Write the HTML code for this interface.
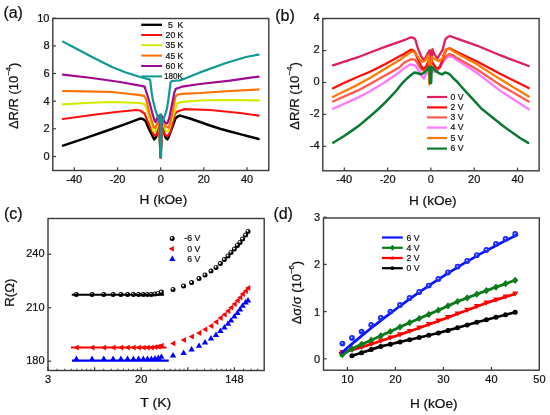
<!DOCTYPE html>
<html><head><meta charset="utf-8"><style>
html,body{margin:0;padding:0;background:#fff;}
svg{display:block;will-change:transform;filter:blur(0.3px);}
text{font-family:"Liberation Sans", sans-serif;fill:#111;stroke:#111;stroke-width:0.22px;}
</style></head><body>
<svg width="550" height="415" viewBox="0 0 550 415">
<rect width="550" height="415" fill="#fff"/>
<text x="3.4" y="17.6" font-size="16" text-anchor="start" >(a)</text>
<polyline points="63.0,145.6 84.0,138.6 106.0,131.0 124.0,124.6 140.0,118.6 143.0,119.0 145.6,121.0 148.6,128.2 154.2,139.4 156.0,137.5 159.3,126.0 160.6,157.5 162.0,126.0 165.5,137.5 167.3,139.4 168.3,137.8 173.4,124.2 175.4,118.6 177.4,116.6 180.0,115.6 190.0,118.5 200.0,122.0 210.0,125.5 220.0,128.7 230.0,131.5 240.0,134.1 250.0,136.7 258.6,139.0" fill="none" stroke="#000000" stroke-width="2.5" stroke-linejoin="round" stroke-linecap="round" />
<polyline points="63.0,119.0 92.0,115.0 116.0,112.0 136.0,110.0 140.0,110.5 144.6,113.5 147.1,120.1 154.2,135.6 156.7,135.0 159.3,122.0 160.6,157.5 162.0,122.0 164.0,134.0 167.3,136.3 170.4,131.8 174.9,114.0 177.4,111.5 182.0,110.0 184.0,109.2 210.0,110.0 240.0,113.0 258.6,115.6" fill="none" stroke="#ff1010" stroke-width="2.2" stroke-linejoin="round" stroke-linecap="round" />
<polyline points="63.0,104.4 85.0,103.0 112.0,102.0 140.0,103.0 144.0,104.0 146.0,106.9 147.6,112.0 153.2,131.0 155.2,132.0 159.3,120.0 160.6,157.5 162.0,120.0 166.0,131.5 168.3,131.5 174.5,112.0 177.0,103.4 182.0,101.9 200.0,100.5 220.0,100.0 258.6,100.4" fill="none" stroke="#d2ec00" stroke-width="2.2" stroke-linejoin="round" stroke-linecap="round" />
<polyline points="63.0,91.0 85.0,91.3 112.0,92.0 130.0,94.0 140.0,95.2 144.0,95.8 146.1,99.3 149.6,114.0 153.7,127.2 155.2,128.2 159.3,118.0 160.6,157.5 162.0,118.0 165.5,126.5 168.8,127.7 172.6,112.0 175.4,96.3 177.4,94.8 182.0,93.8 200.0,93.0 230.0,91.0 258.6,89.5" fill="none" stroke="#ff7000" stroke-width="2.2" stroke-linejoin="round" stroke-linecap="round" />
<polyline points="63.0,74.6 92.0,78.0 120.0,82.0 140.0,85.6 144.6,86.6 147.8,96.5 150.0,104.3 152.9,115.2 154.7,121.0 155.6,121.9 158.0,116.5 159.5,115.5 160.6,157.5 162.0,116.0 163.0,118.8 164.5,121.7 166.5,123.5 167.4,123.1 169.2,118.1 171.0,109.4 174.4,92.2 175.9,88.7 182.0,86.7 200.0,84.0 230.0,80.6 258.6,76.6" fill="none" stroke="#a00a8e" stroke-width="2.2" stroke-linejoin="round" stroke-linecap="round" />
<polyline points="63.0,41.6 77.0,49.0 92.0,57.0 112.0,67.0 126.0,72.5 140.0,77.0 147.6,79.0 150.1,79.6 151.6,92.2 152.9,100.0 155.4,110.1 158.0,117.4 160.1,123.1 160.8,124.0 162.3,121.7 164.5,116.6 167.0,108.7 168.3,100.0 169.5,91.0 170.6,82.2 171.8,81.0 180.0,80.4 185.0,78.5 200.0,72.4 226.0,63.0 246.0,57.0 258.6,54.6" fill="none" stroke="#0e9a92" stroke-width="2.2" stroke-linejoin="round" stroke-linecap="round" />
<rect x="159.3" y="113.3" width="2.9" height="44.7" rx="1.2" fill="#0e9a92"/>
<line x1="141.2" y1="24.8" x2="162" y2="24.8" stroke="#000000" stroke-width="2.3"/>
<text x="168.0" y="27.7" font-size="8.7" text-anchor="start" >5</text>
<text x="177.6" y="27.7" font-size="8.7" text-anchor="start" >K</text>
<line x1="141.2" y1="35" x2="162" y2="35" stroke="#ff1010" stroke-width="2.0"/>
<text x="165.6" y="37.9" font-size="8.7" textLength="17.8" lengthAdjust="spacingAndGlyphs" >20 K</text>
<line x1="141.2" y1="45.2" x2="162" y2="45.2" stroke="#d2ec00" stroke-width="2.0"/>
<text x="165.6" y="48.1" font-size="8.7" textLength="17.8" lengthAdjust="spacingAndGlyphs" >35 K</text>
<line x1="141.2" y1="55.6" x2="162" y2="55.6" stroke="#ff7000" stroke-width="2.0"/>
<text x="165.6" y="58.5" font-size="8.7" textLength="17.8" lengthAdjust="spacingAndGlyphs" >45 K</text>
<line x1="141.2" y1="66" x2="162" y2="66" stroke="#a00a8e" stroke-width="2.0"/>
<text x="165.6" y="68.9" font-size="8.7" textLength="17.8" lengthAdjust="spacingAndGlyphs" >60 K</text>
<line x1="141.2" y1="76.4" x2="162" y2="76.4" stroke="#0e9a92" stroke-width="2.0"/>
<text x="164.0" y="79.3" font-size="8.7" textLength="19.0" lengthAdjust="spacingAndGlyphs" >180K</text>
<rect x="52.8" y="18.5" width="216.0" height="152.0" fill="none" stroke="#3a3a3a" stroke-width="1.4"/>
<line x1="74.3" y1="170.5" x2="74.3" y2="167.3" stroke="#3a3a3a" stroke-width="1.2"/>
<line x1="117.5" y1="170.5" x2="117.5" y2="167.3" stroke="#3a3a3a" stroke-width="1.2"/>
<line x1="160.7" y1="170.5" x2="160.7" y2="167.3" stroke="#3a3a3a" stroke-width="1.2"/>
<line x1="203.8" y1="170.5" x2="203.8" y2="167.3" stroke="#3a3a3a" stroke-width="1.2"/>
<line x1="247.0" y1="170.5" x2="247.0" y2="167.3" stroke="#3a3a3a" stroke-width="1.2"/>
<line x1="52.8" y1="156.5" x2="56.0" y2="156.5" stroke="#3a3a3a" stroke-width="1.2"/>
<line x1="52.8" y1="128.8" x2="56.0" y2="128.8" stroke="#3a3a3a" stroke-width="1.2"/>
<line x1="52.8" y1="101.2" x2="56.0" y2="101.2" stroke="#3a3a3a" stroke-width="1.2"/>
<line x1="52.8" y1="73.5" x2="56.0" y2="73.5" stroke="#3a3a3a" stroke-width="1.2"/>
<line x1="52.8" y1="45.9" x2="56.0" y2="45.9" stroke="#3a3a3a" stroke-width="1.2"/>
<line x1="52.8" y1="18.2" x2="56.0" y2="18.2" stroke="#3a3a3a" stroke-width="1.2"/>
<text x="74.3" y="183.0" font-size="11" text-anchor="middle" >-40</text>
<text x="117.5" y="183.0" font-size="11" text-anchor="middle" >-20</text>
<text x="160.7" y="183.0" font-size="11" text-anchor="middle" >0</text>
<text x="203.8" y="183.0" font-size="11" text-anchor="middle" >20</text>
<text x="247.0" y="183.0" font-size="11" text-anchor="middle" >40</text>
<text x="49.5" y="160.0" font-size="11" text-anchor="end" >0</text>
<text x="49.5" y="132.3" font-size="11" text-anchor="end" >2</text>
<text x="49.5" y="104.7" font-size="11" text-anchor="end" >4</text>
<text x="49.5" y="77.0" font-size="11" text-anchor="end" >6</text>
<text x="49.5" y="49.4" font-size="11" text-anchor="end" >8</text>
<text x="49.5" y="21.7" font-size="11" text-anchor="end" >10</text>
<text x="139.6" y="204.2" font-size="12.5" textLength="47.6" lengthAdjust="spacingAndGlyphs" >H (kOe)</text>
<text transform="translate(17.6,95.8) rotate(-90)" font-size="12.5" text-anchor="middle" textLength="66.5" lengthAdjust="spacingAndGlyphs">ΔR/R (10<tspan font-size="7.5" dy="-6.6">−4</tspan><tspan dy="6.6">)</tspan></text>
<text x="275.2" y="20.6" font-size="16" text-anchor="start" >(b)</text>
<polyline points="333.0,65.4 358.0,57.2 370.0,52.5 385.0,46.8 400.0,41.6 403.9,40.2 410.0,37.7 411.5,37.3 413.5,37.8 415.2,39.3 417.9,48.5 421.2,56.5 423.3,59.2 424.5,59.8 426.9,54.9 429.4,50.5 429.9,50.3 430.4,64.0 431.0,51.4 431.5,64.0 432.4,49.2 434.5,54.4 436.7,57.6 437.5,58.4 439.5,54.9 442.6,49.9 445.3,39.3 447.3,37.3 449.9,36.0 455.0,37.9 477.5,45.8 500.0,55.2 528.7,66.0" fill="none" stroke="#e0205a" stroke-width="2.3" stroke-linejoin="round" stroke-linecap="round" />
<polyline points="333.0,108.8 358.0,97.6 370.0,91.2 385.0,82.3 400.0,71.7 403.9,68.4 410.0,64.6 411.5,64.6 415.2,65.5 419.8,72.4 423.2,78.3 424.2,78.5 425.1,75.7 426.9,73.6 428.5,70.0 429.8,78.0 431.2,70.0 434.0,72.0 436.0,71.5 437.8,70.5 440.5,66.0 442.6,63.1 446.6,57.8 449.2,56.3 453.2,57.2 455.0,58.8 477.5,73.3 500.0,90.6 528.7,109.3" fill="none" stroke="#ff78ff" stroke-width="2.3" stroke-linejoin="round" stroke-linecap="round" />
<polyline points="333.0,101.5 358.0,90.4 370.0,84.0 385.0,75.4 400.0,66.9 403.9,62.8 410.0,59.7 411.5,59.1 415.2,59.8 419.8,67.1 421.5,69.5 423.6,70.9 426.5,67.0 428.5,63.0 429.8,78.0 431.2,63.0 433.5,64.0 435.5,68.5 437.5,70.5 439.5,67.1 442.2,61.6 444.0,59.1 446.6,55.8 449.2,54.2 453.2,55.2 455.0,56.7 477.5,69.7 500.0,84.9 528.7,101.5" fill="none" stroke="#ff5a50" stroke-width="2.3" stroke-linejoin="round" stroke-linecap="round" />
<polyline points="333.0,88.2 345.0,82.5 358.0,76.7 370.0,71.7 385.0,64.2 400.0,56.1 403.9,54.0 410.0,50.1 411.5,49.6 414.5,51.2 418.5,60.5 422.5,68.4 423.5,68.8 426.4,66.0 427.7,62.7 429.0,60.0 429.8,78.0 431.2,60.0 432.4,62.7 435.1,66.6 437.0,68.5 440.0,67.1 444.0,55.0 446.5,49.3 449.8,48.4 455.0,51.0 477.5,61.7 500.0,73.7 528.7,88.0" fill="none" stroke="#ff0c0c" stroke-width="2.3" stroke-linejoin="round" stroke-linecap="round" />
<polyline points="333.0,96.9 338.0,94.3 345.0,91.0 358.0,84.6 370.0,78.0 385.0,68.7 400.0,59.7 410.0,52.8 412.0,51.5 415.2,52.5 419.2,59.1 422.5,61.8 424.7,60.9 425.8,59.8 427.8,55.8 428.6,55.5 429.3,84.5 431.8,57.0 432.4,57.6 435.1,59.3 437.3,60.4 438.6,61.1 442.0,59.1 444.0,53.8 445.9,49.2 449.2,48.6 455.0,52.2 477.5,64.6 500.0,79.1 528.7,96.6" fill="none" stroke="#ff7a00" stroke-width="2.3" stroke-linejoin="round" stroke-linecap="round" />
<polyline points="333.2,142.7 344.5,135.8 352.0,130.6 359.1,125.6 366.0,119.8 373.6,113.3 379.5,108.0 385.3,102.4 391.0,96.3 396.9,90.0 401.3,84.3 404.5,80.8 407.9,77.7 410.7,75.3 414.5,72.6 417.0,73.0 419.2,73.7 420.9,74.3 424.5,72.6 426.9,69.8 428.5,67.4 429.5,66.8 430.0,83.0 431.0,83.0 431.7,66.8 432.9,67.6 435.1,70.4 438.6,73.0 442.0,74.4 445.3,72.4 448.6,73.7 450.5,75.0 453.2,78.3 457.2,81.7 459.4,84.5 465.6,91.3 473.5,99.9 481.3,108.5 489.1,114.7 496.9,121.0 504.8,127.3 512.6,132.7 520.4,138.2 528.2,142.9" fill="none" stroke="#0a7a32" stroke-width="2.5" stroke-linejoin="round" stroke-linecap="round" />
<rect x="429.0" y="66.8" width="3.2" height="16.6" fill="#0a7a32"/>
<line x1="427" y1="97" x2="447" y2="97" stroke="#e0205a" stroke-width="2.2"/>
<text x="450.6" y="99.7" font-size="8.7" text-anchor="start" >0 V</text>
<line x1="427" y1="107.4" x2="447" y2="107.4" stroke="#ff0c0c" stroke-width="2.2"/>
<text x="450.6" y="110.1" font-size="8.7" text-anchor="start" >2 V</text>
<line x1="427" y1="117.4" x2="447" y2="117.4" stroke="#ff5a50" stroke-width="2.2"/>
<text x="450.6" y="120.1" font-size="8.7" text-anchor="start" >3 V</text>
<line x1="427" y1="127.6" x2="447" y2="127.6" stroke="#ff78ff" stroke-width="2.2"/>
<text x="450.6" y="130.3" font-size="8.7" text-anchor="start" >4 V</text>
<line x1="427" y1="138" x2="447" y2="138" stroke="#ff7a00" stroke-width="2.2"/>
<text x="450.6" y="140.7" font-size="8.7" text-anchor="start" >5 V</text>
<line x1="427" y1="148.6" x2="447" y2="148.6" stroke="#0a7a32" stroke-width="2.2"/>
<text x="450.6" y="151.3" font-size="8.7" text-anchor="start" >6 V</text>
<rect x="322.8" y="18.5" width="216.3" height="152.3" fill="none" stroke="#3a3a3a" stroke-width="1.4"/>
<line x1="344.3" y1="170.8" x2="344.3" y2="167.6" stroke="#3a3a3a" stroke-width="1.2"/>
<line x1="387.6" y1="170.8" x2="387.6" y2="167.6" stroke="#3a3a3a" stroke-width="1.2"/>
<line x1="430.9" y1="170.8" x2="430.9" y2="167.6" stroke="#3a3a3a" stroke-width="1.2"/>
<line x1="474.2" y1="170.8" x2="474.2" y2="167.6" stroke="#3a3a3a" stroke-width="1.2"/>
<line x1="517.5" y1="170.8" x2="517.5" y2="167.6" stroke="#3a3a3a" stroke-width="1.2"/>
<line x1="322.8" y1="146.3" x2="326.0" y2="146.3" stroke="#3a3a3a" stroke-width="1.2"/>
<line x1="322.8" y1="114.4" x2="326.0" y2="114.4" stroke="#3a3a3a" stroke-width="1.2"/>
<line x1="322.8" y1="82.5" x2="326.0" y2="82.5" stroke="#3a3a3a" stroke-width="1.2"/>
<line x1="322.8" y1="50.6" x2="326.0" y2="50.6" stroke="#3a3a3a" stroke-width="1.2"/>
<line x1="322.8" y1="18.7" x2="326.0" y2="18.7" stroke="#3a3a3a" stroke-width="1.2"/>
<text x="344.3" y="183.3" font-size="11" text-anchor="middle" >-40</text>
<text x="387.6" y="183.3" font-size="11" text-anchor="middle" >-20</text>
<text x="430.9" y="183.3" font-size="11" text-anchor="middle" >0</text>
<text x="474.2" y="183.3" font-size="11" text-anchor="middle" >20</text>
<text x="517.5" y="183.3" font-size="11" text-anchor="middle" >40</text>
<text x="319.6" y="148.9" font-size="11" text-anchor="end" >-4</text>
<text x="319.6" y="117.0" font-size="11" text-anchor="end" >-2</text>
<text x="319.6" y="85.1" font-size="11" text-anchor="end" >0</text>
<text x="319.6" y="53.2" font-size="11" text-anchor="end" >2</text>
<text x="319.6" y="21.3" font-size="11" text-anchor="end" >4</text>
<text x="409.0" y="204.7" font-size="12.5" textLength="47.6" lengthAdjust="spacingAndGlyphs" >H (kOe)</text>
<text transform="translate(299.0,96.0) rotate(-90)" font-size="12.5" text-anchor="middle" textLength="67.8" lengthAdjust="spacingAndGlyphs">ΔR/R (10<tspan font-size="7.5" dy="-6.6">−4</tspan><tspan dy="6.6">)</tspan></text>
<text x="3.9" y="218.6" font-size="16" text-anchor="start" >(c)</text>
<circle cx="76.4" cy="294.6" r="2.5" fill="#000"/><circle cx="75.9" cy="294.0" r="1.0" fill="#fff"/>
<polygon points="73.5,347.6 78.7,344.7 78.7,350.5" fill="#f00"/>
<polygon points="76.4,355.6 79.5,361.0 73.2,361.0" fill="#00f"/>
<circle cx="92.1" cy="294.6" r="2.5" fill="#000"/><circle cx="91.6" cy="294.0" r="1.0" fill="#fff"/>
<polygon points="89.2,347.6 94.4,344.7 94.4,350.5" fill="#f00"/>
<polygon points="92.1,355.6 95.2,361.0 88.9,361.0" fill="#00f"/>
<circle cx="103.8" cy="294.6" r="2.5" fill="#000"/><circle cx="103.3" cy="294.0" r="1.0" fill="#fff"/>
<polygon points="100.9,347.6 106.1,344.7 106.1,350.5" fill="#f00"/>
<polygon points="103.8,355.6 106.9,361.0 100.6,361.0" fill="#00f"/>
<circle cx="113.1" cy="294.6" r="2.5" fill="#000"/><circle cx="112.6" cy="294.0" r="1.0" fill="#fff"/>
<polygon points="110.2,347.6 115.5,344.7 115.5,350.5" fill="#f00"/>
<polygon points="113.1,355.6 116.3,361.0 110.0,361.0" fill="#00f"/>
<circle cx="120.9" cy="294.6" r="2.5" fill="#000"/><circle cx="120.4" cy="294.0" r="1.0" fill="#fff"/>
<polygon points="118.0,347.6 123.2,344.7 123.2,350.5" fill="#f00"/>
<polygon points="120.9,355.6 124.1,361.0 117.8,361.0" fill="#00f"/>
<circle cx="127.6" cy="294.6" r="2.5" fill="#000"/><circle cx="127.1" cy="294.0" r="1.0" fill="#fff"/>
<polygon points="124.7,347.6 129.9,344.7 129.9,350.5" fill="#f00"/>
<polygon points="127.6,355.6 130.7,361.0 124.4,361.0" fill="#00f"/>
<circle cx="133.4" cy="294.6" r="2.5" fill="#000"/><circle cx="132.9" cy="294.0" r="1.0" fill="#fff"/>
<polygon points="130.5,347.6 135.7,344.7 135.7,350.5" fill="#f00"/>
<polygon points="133.4,355.6 136.6,361.0 130.3,361.0" fill="#00f"/>
<circle cx="138.6" cy="294.6" r="2.5" fill="#000"/><circle cx="138.1" cy="294.0" r="1.0" fill="#fff"/>
<polygon points="135.7,347.6 140.9,344.7 140.9,350.5" fill="#f00"/>
<polygon points="138.6,355.6 141.8,361.0 135.5,361.0" fill="#00f"/>
<circle cx="143.3" cy="294.6" r="2.5" fill="#000"/><circle cx="142.8" cy="294.0" r="1.0" fill="#fff"/>
<polygon points="140.4,347.6 145.6,344.7 145.6,350.5" fill="#f00"/>
<polygon points="143.3,355.6 146.4,361.0 140.1,361.0" fill="#00f"/>
<circle cx="147.5" cy="294.6" r="2.5" fill="#000"/><circle cx="147.0" cy="294.0" r="1.0" fill="#fff"/>
<polygon points="144.6,347.6 149.8,344.7 149.8,350.5" fill="#f00"/>
<polygon points="147.5,355.6 150.7,361.0 144.4,361.0" fill="#00f"/>
<circle cx="151.4" cy="294.6" r="2.5" fill="#000"/><circle cx="150.9" cy="294.0" r="1.0" fill="#fff"/>
<polygon points="148.5,347.6 153.7,344.7 153.7,350.5" fill="#f00"/>
<polygon points="151.4,355.6 154.5,361.0 148.2,361.0" fill="#00f"/>
<circle cx="155.0" cy="294.0" r="2.5" fill="#000"/><circle cx="154.5" cy="293.4" r="1.0" fill="#fff"/>
<polygon points="152.1,347.1 157.3,344.2 157.3,350.0" fill="#f00"/>
<polygon points="155.0,355.1 158.1,360.5 151.8,360.5" fill="#00f"/>
<circle cx="158.3" cy="293.4" r="2.5" fill="#000"/><circle cx="157.8" cy="292.8" r="1.0" fill="#fff"/>
<polygon points="155.4,346.6 160.6,343.7 160.6,349.5" fill="#f00"/>
<polygon points="158.3,354.5 161.5,359.9 155.2,359.9" fill="#00f"/>
<circle cx="161.4" cy="292.1" r="2.5" fill="#000"/><circle cx="160.9" cy="291.5" r="1.0" fill="#fff"/>
<polygon points="158.5,345.6 163.7,342.7 163.7,348.5" fill="#f00"/>
<polygon points="161.4,353.4 164.6,358.8 158.3,358.8" fill="#00f"/>
<line x1="71.8" y1="294.8" x2="164" y2="294.8" stroke="#000" stroke-width="2.0"/>
<line x1="71" y1="347.5" x2="166.5" y2="347.5" stroke="#ff0000" stroke-width="2.2"/>
<line x1="72" y1="360.6" x2="168.7" y2="360.6" stroke="#0000ff" stroke-width="2.4"/>
<circle cx="173.0" cy="289.4" r="2.5" fill="#000"/><circle cx="172.5" cy="288.8" r="1.0" fill="#fff"/>
<polygon points="170.1,343.4 175.3,340.5 175.3,346.3" fill="#f00"/>
<polygon points="173.0,352.0 176.2,357.4 169.8,357.4" fill="#00f"/>
<circle cx="183.6" cy="286.0" r="2.5" fill="#000"/><circle cx="183.1" cy="285.4" r="1.0" fill="#fff"/>
<polygon points="180.7,340.0 185.9,337.1 185.9,342.9" fill="#f00"/>
<polygon points="183.6,349.6 186.8,355.0 180.4,355.0" fill="#00f"/>
<circle cx="191.6" cy="282.6" r="2.5" fill="#000"/><circle cx="191.1" cy="282.0" r="1.0" fill="#fff"/>
<polygon points="188.7,336.6 193.9,333.7 193.9,339.5" fill="#f00"/>
<polygon points="191.6,346.0 194.8,351.4 188.4,351.4" fill="#00f"/>
<circle cx="199.0" cy="278.6" r="2.5" fill="#000"/><circle cx="198.5" cy="278.0" r="1.0" fill="#fff"/>
<polygon points="196.1,333.0 201.3,330.1 201.3,335.9" fill="#f00"/>
<polygon points="199.0,342.4 202.2,347.8 195.8,347.8" fill="#00f"/>
<circle cx="205.0" cy="275.0" r="2.5" fill="#000"/><circle cx="204.5" cy="274.4" r="1.0" fill="#fff"/>
<polygon points="202.1,329.4 207.3,326.5 207.3,332.3" fill="#f00"/>
<polygon points="205.0,339.0 208.2,344.4 201.8,344.4" fill="#00f"/>
<circle cx="211.0" cy="271.0" r="2.5" fill="#000"/><circle cx="210.5" cy="270.4" r="1.0" fill="#fff"/>
<polygon points="208.1,326.0 213.3,323.1 213.3,328.9" fill="#f00"/>
<polygon points="211.0,335.0 214.2,340.4 207.8,340.4" fill="#00f"/>
<circle cx="216.0" cy="267.4" r="2.5" fill="#000"/><circle cx="215.5" cy="266.8" r="1.0" fill="#fff"/>
<polygon points="213.1,322.0 218.3,319.1 218.3,324.9" fill="#f00"/>
<polygon points="216.0,331.6 219.2,337.0 212.8,337.0" fill="#00f"/>
<circle cx="220.4" cy="263.6" r="2.5" fill="#000"/><circle cx="219.9" cy="263.0" r="1.0" fill="#fff"/>
<polygon points="217.5,318.0 222.7,315.1 222.7,320.9" fill="#f00"/>
<polygon points="220.4,327.6 223.6,333.0 217.2,333.0" fill="#00f"/>
<circle cx="224.4" cy="259.6" r="2.5" fill="#000"/><circle cx="223.9" cy="259.0" r="1.0" fill="#fff"/>
<polygon points="221.5,314.6 226.7,311.7 226.7,317.5" fill="#f00"/>
<polygon points="224.4,324.0 227.6,329.4 221.2,329.4" fill="#00f"/>
<circle cx="228.0" cy="256.0" r="2.5" fill="#000"/><circle cx="227.5" cy="255.4" r="1.0" fill="#fff"/>
<polygon points="225.1,311.0 230.3,308.1 230.3,313.9" fill="#f00"/>
<polygon points="228.0,320.4 231.2,325.8 224.8,325.8" fill="#00f"/>
<circle cx="231.0" cy="252.4" r="2.5" fill="#000"/><circle cx="230.5" cy="251.8" r="1.0" fill="#fff"/>
<polygon points="228.1,307.6 233.3,304.7 233.3,310.5" fill="#f00"/>
<polygon points="231.0,317.0 234.2,322.4 227.8,322.4" fill="#00f"/>
<circle cx="234.4" cy="249.0" r="2.5" fill="#000"/><circle cx="233.9" cy="248.4" r="1.0" fill="#fff"/>
<polygon points="231.5,304.0 236.7,301.1 236.7,306.9" fill="#f00"/>
<polygon points="234.4,313.0 237.6,318.4 231.2,318.4" fill="#00f"/>
<circle cx="237.4" cy="245.4" r="2.5" fill="#000"/><circle cx="236.9" cy="244.8" r="1.0" fill="#fff"/>
<polygon points="234.5,300.6 239.7,297.7 239.7,303.5" fill="#f00"/>
<polygon points="237.4,309.6 240.6,315.0 234.2,315.0" fill="#00f"/>
<circle cx="240.0" cy="242.4" r="2.5" fill="#000"/><circle cx="239.5" cy="241.8" r="1.0" fill="#fff"/>
<polygon points="237.1,297.4 242.3,294.5 242.3,300.3" fill="#f00"/>
<polygon points="240.0,306.0 243.2,311.4 236.8,311.4" fill="#00f"/>
<circle cx="242.6" cy="239.0" r="2.5" fill="#000"/><circle cx="242.1" cy="238.4" r="1.0" fill="#fff"/>
<polygon points="239.7,294.0 244.9,291.1 244.9,296.9" fill="#f00"/>
<polygon points="242.6,302.4 245.8,307.8 239.4,307.8" fill="#00f"/>
<circle cx="245.6" cy="235.0" r="2.5" fill="#000"/><circle cx="245.1" cy="234.4" r="1.0" fill="#fff"/>
<polygon points="242.7,291.0 247.9,288.1 247.9,293.9" fill="#f00"/>
<polygon points="245.6,299.0 248.8,304.4 242.4,304.4" fill="#00f"/>
<circle cx="248.0" cy="231.4" r="2.5" fill="#000"/><circle cx="247.5" cy="230.8" r="1.0" fill="#fff"/>
<polygon points="245.1,288.0 250.3,285.1 250.3,290.9" fill="#f00"/>
<polygon points="248.0,297.0 251.2,302.4 244.8,302.4" fill="#00f"/>
<circle cx="172.2" cy="238.5" r="2.5" fill="#000"/><circle cx="171.7" cy="237.9" r="1.0" fill="#fff"/>
<polygon points="168.7,248.8 173.9,245.9 173.9,251.7" fill="#f00"/>
<polygon points="172.3,255.6 175.5,261.0 169.2,261.0" fill="#00f"/>
<text x="200.2" y="241.4" font-size="8.7" text-anchor="end" >-6 V</text>
<text x="200.2" y="251.9" font-size="8.7" text-anchor="end" >0 V</text>
<text x="200.2" y="262.0" font-size="8.7" text-anchor="end" >6 V</text>
<rect x="48.0" y="218.5" width="216.2" height="152.0" fill="none" stroke="#3a3a3a" stroke-width="1.4"/>
<line x1="48.0" y1="370.5" x2="48.0" y2="367.3" stroke="#3a3a3a" stroke-width="1.2"/>
<line x1="57.1" y1="370.5" x2="57.1" y2="368.7" stroke="#3a3a3a" stroke-width="1.0"/>
<line x1="64.7" y1="370.5" x2="64.7" y2="368.7" stroke="#3a3a3a" stroke-width="1.0"/>
<line x1="71.2" y1="370.5" x2="71.2" y2="368.7" stroke="#3a3a3a" stroke-width="1.0"/>
<line x1="76.9" y1="370.5" x2="76.9" y2="368.7" stroke="#3a3a3a" stroke-width="1.0"/>
<line x1="82.0" y1="370.5" x2="82.0" y2="368.7" stroke="#3a3a3a" stroke-width="1.0"/>
<line x1="86.6" y1="370.5" x2="86.6" y2="368.7" stroke="#3a3a3a" stroke-width="1.0"/>
<line x1="90.8" y1="370.5" x2="90.8" y2="368.7" stroke="#3a3a3a" stroke-width="1.0"/>
<line x1="94.6" y1="370.5" x2="94.6" y2="367.3" stroke="#3a3a3a" stroke-width="1.2"/>
<line x1="103.7" y1="370.5" x2="103.7" y2="368.7" stroke="#3a3a3a" stroke-width="1.0"/>
<line x1="111.3" y1="370.5" x2="111.3" y2="368.7" stroke="#3a3a3a" stroke-width="1.0"/>
<line x1="117.8" y1="370.5" x2="117.8" y2="368.7" stroke="#3a3a3a" stroke-width="1.0"/>
<line x1="123.5" y1="370.5" x2="123.5" y2="368.7" stroke="#3a3a3a" stroke-width="1.0"/>
<line x1="128.6" y1="370.5" x2="128.6" y2="368.7" stroke="#3a3a3a" stroke-width="1.0"/>
<line x1="133.2" y1="370.5" x2="133.2" y2="368.7" stroke="#3a3a3a" stroke-width="1.0"/>
<line x1="137.4" y1="370.5" x2="137.4" y2="368.7" stroke="#3a3a3a" stroke-width="1.0"/>
<line x1="141.2" y1="370.5" x2="141.2" y2="367.3" stroke="#3a3a3a" stroke-width="1.2"/>
<line x1="150.3" y1="370.5" x2="150.3" y2="368.7" stroke="#3a3a3a" stroke-width="1.0"/>
<line x1="157.9" y1="370.5" x2="157.9" y2="368.7" stroke="#3a3a3a" stroke-width="1.0"/>
<line x1="164.4" y1="370.5" x2="164.4" y2="368.7" stroke="#3a3a3a" stroke-width="1.0"/>
<line x1="170.1" y1="370.5" x2="170.1" y2="368.7" stroke="#3a3a3a" stroke-width="1.0"/>
<line x1="175.2" y1="370.5" x2="175.2" y2="368.7" stroke="#3a3a3a" stroke-width="1.0"/>
<line x1="179.8" y1="370.5" x2="179.8" y2="368.7" stroke="#3a3a3a" stroke-width="1.0"/>
<line x1="184.0" y1="370.5" x2="184.0" y2="368.7" stroke="#3a3a3a" stroke-width="1.0"/>
<line x1="187.8" y1="370.5" x2="187.8" y2="367.3" stroke="#3a3a3a" stroke-width="1.2"/>
<line x1="196.9" y1="370.5" x2="196.9" y2="368.7" stroke="#3a3a3a" stroke-width="1.0"/>
<line x1="204.5" y1="370.5" x2="204.5" y2="368.7" stroke="#3a3a3a" stroke-width="1.0"/>
<line x1="211.0" y1="370.5" x2="211.0" y2="368.7" stroke="#3a3a3a" stroke-width="1.0"/>
<line x1="216.7" y1="370.5" x2="216.7" y2="368.7" stroke="#3a3a3a" stroke-width="1.0"/>
<line x1="221.8" y1="370.5" x2="221.8" y2="368.7" stroke="#3a3a3a" stroke-width="1.0"/>
<line x1="226.4" y1="370.5" x2="226.4" y2="368.7" stroke="#3a3a3a" stroke-width="1.0"/>
<line x1="230.6" y1="370.5" x2="230.6" y2="368.7" stroke="#3a3a3a" stroke-width="1.0"/>
<line x1="234.4" y1="370.5" x2="234.4" y2="367.3" stroke="#3a3a3a" stroke-width="1.2"/>
<line x1="243.5" y1="370.5" x2="243.5" y2="368.7" stroke="#3a3a3a" stroke-width="1.0"/>
<line x1="251.1" y1="370.5" x2="251.1" y2="368.7" stroke="#3a3a3a" stroke-width="1.0"/>
<line x1="257.6" y1="370.5" x2="257.6" y2="368.7" stroke="#3a3a3a" stroke-width="1.0"/>
<line x1="48.0" y1="361.2" x2="51.2" y2="361.2" stroke="#3a3a3a" stroke-width="1.2"/>
<line x1="48.0" y1="307.7" x2="51.2" y2="307.7" stroke="#3a3a3a" stroke-width="1.2"/>
<line x1="48.0" y1="254.2" x2="51.2" y2="254.2" stroke="#3a3a3a" stroke-width="1.2"/>
<text x="48.0" y="383.2" font-size="11" text-anchor="middle" >3</text>
<text x="141.2" y="383.0" font-size="11" text-anchor="middle" >20</text>
<text x="234.4" y="383.0" font-size="11" text-anchor="middle" >148</text>
<text x="44.5" y="364.1" font-size="11" text-anchor="end" >180</text>
<text x="44.5" y="310.6" font-size="11" text-anchor="end" >210</text>
<text x="44.5" y="257.1" font-size="11" text-anchor="end" >240</text>
<text x="140.3" y="406.7" font-size="12.5" textLength="31.0" lengthAdjust="spacingAndGlyphs" >T (K)</text>
<text transform="translate(14.0,292.7) rotate(-90)" font-size="12.5" text-anchor="middle" textLength="28.2" lengthAdjust="spacingAndGlyphs">R(Ω)</text>
<text x="273.4" y="219.0" font-size="16" text-anchor="start" >(d)</text>
<polyline points="351.0,356.0 352.0,355.7 361.6,352.8 371.2,349.6 380.8,346.4 390.4,344.2 400.0,341.9 409.6,339.7 419.2,337.5 428.8,335.2 438.4,333.0 448.0,330.4 457.6,327.7 467.2,325.0 476.8,322.3 486.4,319.7 496.0,317.2 505.6,314.7 515.2,312.2" fill="none" stroke="#000" stroke-width="2.7" stroke-linejoin="round" stroke-linecap="round" />
<circle cx="352.0" cy="355.7" r="2.5" fill="#000"/>
<circle cx="361.6" cy="352.8" r="2.5" fill="#000"/>
<circle cx="371.2" cy="349.6" r="2.5" fill="#000"/>
<circle cx="380.8" cy="346.4" r="2.5" fill="#000"/>
<circle cx="390.4" cy="344.2" r="2.5" fill="#000"/>
<circle cx="400.0" cy="341.9" r="2.5" fill="#000"/>
<circle cx="409.6" cy="339.7" r="2.5" fill="#000"/>
<circle cx="419.2" cy="337.5" r="2.5" fill="#000"/>
<circle cx="428.8" cy="335.2" r="2.5" fill="#000"/>
<circle cx="438.4" cy="333.0" r="2.5" fill="#000"/>
<circle cx="448.0" cy="330.4" r="2.5" fill="#000"/>
<circle cx="457.6" cy="327.7" r="2.5" fill="#000"/>
<circle cx="467.2" cy="325.0" r="2.5" fill="#000"/>
<circle cx="476.8" cy="322.3" r="2.5" fill="#000"/>
<circle cx="486.4" cy="319.7" r="2.5" fill="#000"/>
<circle cx="496.0" cy="317.2" r="2.5" fill="#000"/>
<circle cx="505.6" cy="314.7" r="2.5" fill="#000"/>
<circle cx="515.2" cy="312.2" r="2.5" fill="#000"/>
<polyline points="340.0,352.8 352.0,350.0 361.6,347.1 371.2,344.1 380.8,341.0 390.4,337.8 400.0,334.6 409.6,331.3 419.2,327.9 428.8,324.4 438.4,320.9 448.0,317.4 457.6,313.8 467.2,310.2 476.8,306.5 486.4,302.9 496.0,299.9 505.6,296.9 515.2,293.9" fill="none" stroke="#ff0000" stroke-width="2.7" stroke-linejoin="round" stroke-linecap="round" />
<polygon points="339.4,349.9 345.4,349.9 342.4,355.1" fill="#ff0000"/>
<polygon points="349.0,347.6 355.0,347.6 352.0,352.8" fill="#ff0000"/>
<polygon points="358.6,344.7 364.6,344.7 361.6,349.9" fill="#ff0000"/>
<polygon points="368.2,341.7 374.2,341.7 371.2,346.9" fill="#ff0000"/>
<polygon points="377.8,338.6 383.8,338.6 380.8,343.8" fill="#ff0000"/>
<polygon points="387.4,335.4 393.4,335.4 390.4,340.6" fill="#ff0000"/>
<polygon points="397.0,332.2 403.0,332.2 400.0,337.4" fill="#ff0000"/>
<polygon points="406.6,328.9 412.6,328.9 409.6,334.1" fill="#ff0000"/>
<polygon points="416.2,325.5 422.2,325.5 419.2,330.7" fill="#ff0000"/>
<polygon points="425.8,322.0 431.8,322.0 428.8,327.2" fill="#ff0000"/>
<polygon points="435.4,318.5 441.4,318.5 438.4,323.7" fill="#ff0000"/>
<polygon points="445.0,315.0 451.0,315.0 448.0,320.2" fill="#ff0000"/>
<polygon points="454.6,311.4 460.6,311.4 457.6,316.6" fill="#ff0000"/>
<polygon points="464.2,307.8 470.2,307.8 467.2,313.0" fill="#ff0000"/>
<polygon points="473.8,304.1 479.8,304.1 476.8,309.3" fill="#ff0000"/>
<polygon points="483.4,300.5 489.4,300.5 486.4,305.7" fill="#ff0000"/>
<polygon points="493.0,297.5 499.0,297.5 496.0,302.7" fill="#ff0000"/>
<polygon points="502.6,294.5 508.6,294.5 505.6,299.7" fill="#ff0000"/>
<polygon points="512.2,291.5 518.2,291.5 515.2,296.7" fill="#ff0000"/>
<polyline points="341.0,355.5 352.0,348.8 361.6,344.3 371.2,340.2 380.8,335.8 390.4,331.5 400.0,327.1 409.6,322.7 419.2,318.5 428.8,314.4 438.4,310.2 448.0,305.9 457.6,301.5 467.2,297.9 476.8,294.2 486.4,290.6 496.0,287.1 505.6,283.7 515.2,280.3" fill="none" stroke="#0a7a1a" stroke-width="2.8" stroke-linejoin="round" stroke-linecap="round" />
<polygon points="342.4,351.0 345.5,354.6 342.4,358.2 339.3,354.6" fill="#0a7a1a"/>
<polygon points="352.0,345.2 355.1,348.8 352.0,352.4 348.9,348.8" fill="#0a7a1a"/>
<polygon points="361.6,340.7 364.7,344.3 361.6,347.9 358.5,344.3" fill="#0a7a1a"/>
<polygon points="371.2,336.6 374.3,340.2 371.2,343.8 368.1,340.2" fill="#0a7a1a"/>
<polygon points="380.8,332.2 383.9,335.8 380.8,339.4 377.7,335.8" fill="#0a7a1a"/>
<polygon points="390.4,327.9 393.5,331.5 390.4,335.1 387.3,331.5" fill="#0a7a1a"/>
<polygon points="400.0,323.5 403.1,327.1 400.0,330.7 396.9,327.1" fill="#0a7a1a"/>
<polygon points="409.6,319.1 412.7,322.7 409.6,326.3 406.5,322.7" fill="#0a7a1a"/>
<polygon points="419.2,314.9 422.3,318.5 419.2,322.1 416.1,318.5" fill="#0a7a1a"/>
<polygon points="428.8,310.8 431.9,314.4 428.8,318.0 425.7,314.4" fill="#0a7a1a"/>
<polygon points="438.4,306.6 441.5,310.2 438.4,313.8 435.3,310.2" fill="#0a7a1a"/>
<polygon points="448.0,302.3 451.1,305.9 448.0,309.5 444.9,305.9" fill="#0a7a1a"/>
<polygon points="457.6,297.9 460.7,301.5 457.6,305.1 454.5,301.5" fill="#0a7a1a"/>
<polygon points="467.2,294.3 470.3,297.9 467.2,301.5 464.1,297.9" fill="#0a7a1a"/>
<polygon points="476.8,290.6 479.9,294.2 476.8,297.8 473.7,294.2" fill="#0a7a1a"/>
<polygon points="486.4,287.0 489.5,290.6 486.4,294.2 483.3,290.6" fill="#0a7a1a"/>
<polygon points="496.0,283.5 499.1,287.1 496.0,290.7 492.9,287.1" fill="#0a7a1a"/>
<polygon points="505.6,280.1 508.7,283.7 505.6,287.3 502.5,283.7" fill="#0a7a1a"/>
<polygon points="515.2,276.7 518.3,280.3 515.2,283.9 512.1,280.3" fill="#0a7a1a"/>
<polyline points="342.0,352.4 348.0,347.2 354.1,342.1 360.1,337.1 366.1,332.2 372.2,327.3 378.2,322.6 384.2,317.9 390.3,313.3 396.3,308.7 402.3,304.3 408.4,299.9 414.4,295.6 420.4,291.4 426.5,287.3 432.5,283.2 438.6,279.3 444.6,275.4 450.6,271.6 456.7,267.8 462.7,264.2 468.7,260.6 474.8,257.1 480.8,253.7 486.8,250.4 492.9,247.2 498.9,244.0 504.9,240.9 511.0,237.9 517.0,235.0" fill="none" stroke="#0a14ff" stroke-width="2.7" stroke-linejoin="round" stroke-linecap="round" />
<circle cx="342.4" cy="343.6" r="2.9" fill="#1a2cff"/><circle cx="342.1" cy="343.1" r="0.7" fill="#fff"/>
<circle cx="352.0" cy="338.0" r="2.9" fill="#1a2cff"/><circle cx="351.7" cy="337.5" r="0.7" fill="#fff"/>
<circle cx="361.6" cy="331.6" r="2.9" fill="#1a2cff"/><circle cx="361.3" cy="331.1" r="0.7" fill="#fff"/>
<circle cx="371.2" cy="325.0" r="2.9" fill="#1a2cff"/><circle cx="370.9" cy="324.5" r="0.7" fill="#fff"/>
<circle cx="380.8" cy="318.0" r="2.9" fill="#1a2cff"/><circle cx="380.5" cy="317.5" r="0.7" fill="#fff"/>
<circle cx="390.4" cy="311.6" r="2.9" fill="#1a2cff"/><circle cx="390.1" cy="311.1" r="0.7" fill="#fff"/>
<circle cx="400.0" cy="305.0" r="2.9" fill="#1a2cff"/><circle cx="399.7" cy="304.5" r="0.7" fill="#fff"/>
<circle cx="409.6" cy="298.0" r="2.9" fill="#1a2cff"/><circle cx="409.3" cy="297.5" r="0.7" fill="#fff"/>
<circle cx="419.2" cy="292.0" r="2.9" fill="#1a2cff"/><circle cx="418.9" cy="291.5" r="0.7" fill="#fff"/>
<circle cx="428.8" cy="285.6" r="2.9" fill="#1a2cff"/><circle cx="428.5" cy="285.1" r="0.7" fill="#fff"/>
<circle cx="438.4" cy="279.0" r="2.9" fill="#1a2cff"/><circle cx="438.1" cy="278.5" r="0.7" fill="#fff"/>
<circle cx="448.0" cy="272.4" r="2.9" fill="#1a2cff"/><circle cx="447.7" cy="271.9" r="0.7" fill="#fff"/>
<circle cx="457.6" cy="266.6" r="2.9" fill="#1a2cff"/><circle cx="457.3" cy="266.1" r="0.7" fill="#fff"/>
<circle cx="467.2" cy="261.0" r="2.9" fill="#1a2cff"/><circle cx="466.9" cy="260.5" r="0.7" fill="#fff"/>
<circle cx="476.8" cy="255.2" r="2.9" fill="#1a2cff"/><circle cx="476.5" cy="254.7" r="0.7" fill="#fff"/>
<circle cx="486.4" cy="250.0" r="2.9" fill="#1a2cff"/><circle cx="486.1" cy="249.5" r="0.7" fill="#fff"/>
<circle cx="496.0" cy="244.0" r="2.9" fill="#1a2cff"/><circle cx="495.7" cy="243.5" r="0.7" fill="#fff"/>
<circle cx="505.6" cy="239.0" r="2.9" fill="#1a2cff"/><circle cx="505.3" cy="238.5" r="0.7" fill="#fff"/>
<circle cx="515.2" cy="234.0" r="2.9" fill="#1a2cff"/><circle cx="514.9" cy="233.5" r="0.7" fill="#fff"/>
<line x1="382" y1="237.5" x2="402.8" y2="237.5" stroke="#0a14ff" stroke-width="2.2"/>
<text x="406.4" y="240.5" font-size="8.7" text-anchor="start" >6 V</text>
<line x1="382" y1="247.8" x2="402.8" y2="247.8" stroke="#0a7a1a" stroke-width="2.2"/>
<polygon points="392.4,244.8 395.0,247.8 392.4,250.8 389.79999999999995,247.8" fill="#0a7a1a"/>
<text x="406.4" y="250.8" font-size="8.7" text-anchor="start" >4 V</text>
<line x1="382" y1="258" x2="402.8" y2="258" stroke="#ff0000" stroke-width="2.2"/>
<polygon points="390.4,259.5 394.4,259.5 392.4,256" fill="#ff0000"/>
<text x="406.4" y="261.0" font-size="8.7" text-anchor="start" >2 V</text>
<line x1="382" y1="268.2" x2="402.8" y2="268.2" stroke="#000" stroke-width="2.2"/>
<circle cx="392.4" cy="268.2" r="1.9" fill="#000"/>
<text x="406.4" y="271.2" font-size="8.7" text-anchor="start" >0 V</text>
<rect x="323.5" y="218.0" width="215.8" height="152.2" fill="none" stroke="#3a3a3a" stroke-width="1.4"/>
<line x1="347.4" y1="370.2" x2="347.4" y2="367.0" stroke="#3a3a3a" stroke-width="1.2"/>
<line x1="395.4" y1="370.2" x2="395.4" y2="367.0" stroke="#3a3a3a" stroke-width="1.2"/>
<line x1="443.4" y1="370.2" x2="443.4" y2="367.0" stroke="#3a3a3a" stroke-width="1.2"/>
<line x1="491.4" y1="370.2" x2="491.4" y2="367.0" stroke="#3a3a3a" stroke-width="1.2"/>
<line x1="323.5" y1="358.8" x2="326.7" y2="358.8" stroke="#3a3a3a" stroke-width="1.2"/>
<line x1="323.5" y1="311.6" x2="326.7" y2="311.6" stroke="#3a3a3a" stroke-width="1.2"/>
<line x1="323.5" y1="264.4" x2="326.7" y2="264.4" stroke="#3a3a3a" stroke-width="1.2"/>
<line x1="323.5" y1="217.2" x2="326.7" y2="217.2" stroke="#3a3a3a" stroke-width="1.2"/>
<text x="347.4" y="382.8" font-size="11" text-anchor="middle" >10</text>
<text x="395.4" y="382.8" font-size="11" text-anchor="middle" >20</text>
<text x="443.4" y="382.8" font-size="11" text-anchor="middle" >30</text>
<text x="491.4" y="382.8" font-size="11" text-anchor="middle" >40</text>
<text x="539.4" y="382.8" font-size="11" text-anchor="middle" >50</text>
<text x="320.0" y="362.7" font-size="11" text-anchor="end" >0</text>
<text x="320.0" y="315.5" font-size="11" text-anchor="end" >1</text>
<text x="320.0" y="268.3" font-size="11" text-anchor="end" >2</text>
<text x="320.0" y="221.1" font-size="11" text-anchor="end" >3</text>
<text x="409.9" y="408.1" font-size="12.5" textLength="47.6" lengthAdjust="spacingAndGlyphs" >H (kOe)</text>
<text transform="translate(300.6,292.6) rotate(-90)" font-size="12.5" text-anchor="middle" textLength="63.3" lengthAdjust="spacingAndGlyphs">Δσ/σ (10<tspan font-size="7.5" dy="-6.6">−6</tspan><tspan dy="6.6">)</tspan></text>
</svg></body></html>
